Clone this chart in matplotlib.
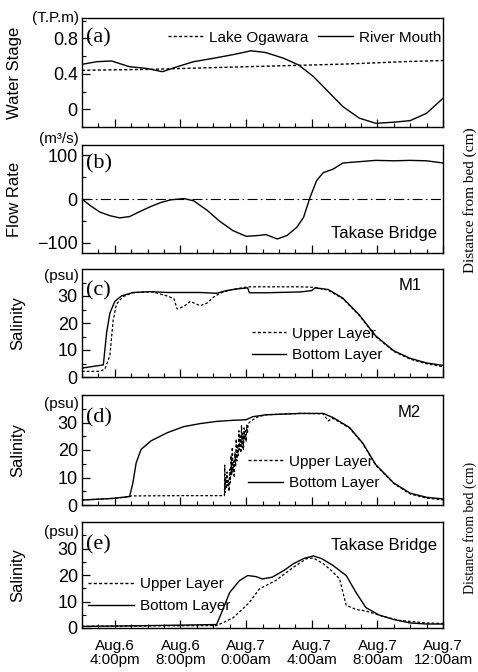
import matplotlib.pyplot as plt
from matplotlib.ticker import MultipleLocator
from matplotlib.lines import Line2D

plt.rcParams['font.family'] = ['Liberation Sans', 'DejaVu Sans']
SERIF = ['Liberation Serif', 'DejaVu Serif']

# time in hours from Aug.6 0:00
# (a) water stage (T.P.m)
t_lake = [14, 16, 18, 20, 22, 24, 26, 28, 30, 32, 34, 36]
lake = [0.44, 0.445, 0.45, 0.46, 0.47, 0.48, 0.49, 0.50, 0.51, 0.525, 0.54, 0.55]
t_mouth = [14, 14.9, 15.8, 16.9, 17.9, 18.9, 19.8, 20.8, 22.0, 23.3, 24.3, 25.2, 26.3,
           27.2, 28.1, 29.0, 29.9, 30.9, 31.9, 33.0, 34.0, 35.0, 36.0]
mouth = [0.507, 0.537, 0.545, 0.48, 0.462, 0.424, 0.48, 0.537, 0.575, 0.62, 0.66, 0.64, 0.575,
         0.50, 0.37, 0.20, 0.03, -0.10, -0.158, -0.146, -0.128, -0.045, 0.124]

# (b) flow rate at Takase Bridge (m3/s)
t_flow = [14, 14.5, 15.1, 15.7, 16.3, 16.9, 17.5, 18.2, 18.8, 19.4, 20.2, 20.8, 21.6, 22.4,
          23.2, 24.0, 24.8, 25.2, 25.9, 26.5, 27.1, 27.5, 27.9, 28.3, 28.7, 29.0, 29.3,
          29.9, 30.9, 31.9, 33.0, 34.0, 35.0, 36.0]
flow = [0, -15, -30, -38, -43, -40, -29, -17, -8, -2, 1, -4, -25, -51,
        -72, -85, -83, -81, -91, -83, -64, -42, 4, 42, 60, 64, 68,
        82, 85, 88, 87, 88, 87, 82]

# (c) salinity M1 (psu)
t_c_bot = [14, 15.1, 15.3, 15.5, 15.7, 16.0, 16.4, 17.1, 18.2, 19.2, 20.2, 21.2, 22.2, 22.8,
           23.4, 24.1, 24.2, 25.2, 27.3, 28.0, 28.2, 29.0, 29.9, 30.9, 31.9, 33.0, 34.0,
           35.0, 36.0]
c_bot = [3.3, 4.3, 4.5, 16.4, 23.7, 28, 30, 31.3, 31.6, 31.3, 31.3, 31.3, 31, 32,
         32.6, 33, 31.2, 31.2, 31.5, 32, 33, 32.4, 29.2, 23, 15.2, 9.7, 6.9,
         5.2, 4.3]
t_c_up = [14, 15.1, 15.4, 15.7, 15.9, 16.1, 16.5, 17.1, 18.2, 18.6, 19.2, 19.6, 19.8, 20.2,
          20.6, 21.2, 21.6, 22.0, 22.4, 23.0, 24.1, 25.2, 27.3, 28.2, 29.0, 29.9, 30.9,
          31.9, 33.0, 34.0, 35.0, 36.0]
c_up = [2.1, 2.1, 3, 8, 21, 27, 29.8, 31.2, 31.6, 31, 30, 29, 25.2, 26.1,
        28, 26.4, 27.3, 29.5, 31, 32.2, 33.4, 33.4, 33.4, 33.2, 32.2, 29, 22.8,
        15, 9.5, 6.6, 4.9, 3.8]

# (d) salinity M2 (psu)
t_d_bot = [14, 15.9, 16.9, 17.1, 17.3, 17.6, 18.2, 19.2, 20.2, 21.2, 22.2, 23.2, 24.0, 24.4,
           25.2, 27.3, 28.7, 29.3, 30.3, 31.1, 31.9, 33.0, 34.0, 35.0, 36.0]
d_bot = [1.8, 2.4, 3.1, 8, 15.3, 20.2, 23.3, 26.3, 28.5, 29.6, 30.4, 30.8, 31, 32.1,
         32.8, 33.3, 33.3, 31.8, 28.2, 22.6, 14.7, 8, 4.3, 2.8, 2.2]
t_d_up = [14, 15.9, 16.9, 17.0, 20.0, 22.68, 22.70, 22.72, 22.76, 22.80, 22.84, 22.88, 22.92,
          22.96, 23.00, 23.04, 23.08, 23.12, 23.16, 23.20, 23.24, 23.28, 23.32, 23.36,
          23.40, 23.44, 23.48, 23.52, 23.56, 23.60, 23.64, 23.68, 23.72, 23.76, 23.80,
          23.84, 23.88, 23.92, 23.96, 24.00, 24.04, 24.08, 24.12, 24.3, 24.7, 25.2,
          27.3, 28.7, 29.0, 29.3, 30.3, 31.1, 31.9, 33.0, 34.0, 35.0, 36.0]
d_up = [1.8, 2.4, 3.0, 3.3, 3.4, 3.4, 14.5, 4.5, 10, 6, 12, 7, 9,
        5, 13, 8, 18, 11, 21, 12, 16, 10, 19, 14,
        24, 16, 22, 18, 27, 20, 25, 19, 29, 21, 26,
        20, 28, 24, 27, 23, 29, 26, 29.5, 30.6, 32, 32.8,
        33.3, 33.2, 30.6, 31.5, 28, 22.4, 14.5, 7.8, 4.0, 2.5, 1.9]

# (e) salinity Takase Bridge (psu)
t_e_bot = [14, 18, 22.2, 22.5, 23.0, 23.6, 24.1, 24.6, 25.0, 25.6, 26.3, 26.9, 27.5, 28.1,
           28.6, 29.3, 30.1, 30.7, 31.3, 32.1, 33.0, 34.0, 35.0, 36.0]
e_bot = [0.6, 0.9, 1.3, 5.7, 13.4, 17.9, 19.8, 19.4, 18.5, 19.2, 21.7, 24.3, 26.2, 27.2,
         26.2, 23.6, 19.8, 13.4, 7.7, 4.9, 3.2, 1.9, 1.5, 1.5]
t_e_up = [14, 18, 22.2, 23.2, 24.2, 24.8, 25.8, 26.9, 27.7, 28.1, 28.7, 29.3, 29.7, 29.9,
          30.1, 30.7, 31.3, 32.3, 33.3, 35.0, 36.0]
e_up = [0.6, 0.8, 0.9, 3.8, 9.6, 14.7, 17.9, 23, 26.2, 26.4, 24.3, 21.1, 18.5, 13.4,
        8.6, 7, 6.4, 4.5, 2.9, 1.9, 1.7]

x_ticks = [16, 20, 24, 28, 32, 36]
x_labels = ['Aug.6\n4:00pm', 'Aug.6\n8:00pm', 'Aug.7\n0:00am', 'Aug.7\n4:00am',
            'Aug.7\n8:00am', 'Aug.7\n12:00am']
sal_ticks = [0, 10, 20, 30]

DOT = (0, (2.2, 1.6))
W, H = 478, 672
fig = plt.figure(figsize=(4.78, 6.72), dpi=100)

# pixel boxes (top, bottom) of each panel
boxes = [(18, 127), (145, 253), (269, 377), (395, 505), (522, 628)]
axes = []
for top, bot in boxes:
    ax = fig.add_axes([82 / W, 1 - bot / H, 361 / W, (bot - top) / H])
    ax.set_xlim(14, 36)
    ax.xaxis.set_major_locator(MultipleLocator(4))
    ax.xaxis.set_minor_locator(MultipleLocator(1))
    ax.tick_params(which='major', direction='in', length=6, width=0.9, labelsize=13, pad=3)
    ax.tick_params(which='minor', direction='in', length=3, width=0.8)
    ax.tick_params(axis='x', labelbottom=False)
    for s in ax.spines.values():
        s.set_linewidth(1.0)
    axes.append(ax)

a, b, c, d, e = axes

# (a)
a.plot(t_lake, lake, color='k', lw=1.0, ls=DOT)
a.plot(t_mouth, mouth, color='k', lw=1.0)
a.set_ylim(-0.2, 1.03)
a.set_yticks([0, 0.4, 0.8])
a.set_yticklabels(['0', '0.4', '0.8'])
a.yaxis.set_minor_locator(MultipleLocator(0.2))
a.legend([Line2D([], [], color='k', lw=1.0, ls=DOT), Line2D([], [], color='k', lw=1.0)],
         ['Lake Ogawara', 'River Mouth'], ncol=2, loc='center right',
         bbox_to_anchor=(0.995, 0.82), frameon=False, fontsize=11, handlelength=2.3,
         handletextpad=0.4, columnspacing=0.6, borderpad=0, borderaxespad=0)

# (b)
b.plot(t_flow, flow, color='k', lw=1.0)
b.axhline(0, color='k', lw=0.8, ls=(0, (9, 3, 1.5, 3)))
b.set_ylim(-123, 123)
b.set_yticks([-100, 0, 100])
b.yaxis.set_minor_locator(MultipleLocator(50))
b.text(0.983, 0.185, 'Takase Bridge', transform=b.transAxes, ha='right', va='center', fontsize=12)

# (c), (d), (e)
sal = [(c, t_c_up, c_up, t_c_bot, c_bot), (d, t_d_up, d_up, t_d_bot, d_bot),
       (e, t_e_up, e_up, t_e_bot, e_bot)]
for ax, tu, vu, tb, vb in sal:
    ax.plot(tu, vu, color='k', lw=0.9, ls=DOT)
    ax.plot(tb, vb, color='k', lw=1.0)
    ax.set_ylim(0, 40)
    ax.set_yticks(sal_ticks)
    ax.yaxis.set_minor_locator(MultipleLocator(5))

leg_pos = [(c, 0.471, 0.30, 2.2), (d, 0.46, 0.295, 2.3), (e, 0.017, 0.31, 3.0)]
for ax, lx, ly, hl in leg_pos:
    ax.legend([Line2D([], [], color='k', lw=1.0, ls=DOT), Line2D([], [], color='k', lw=1.0)],
              ['Upper Layer', 'Bottom Layer'], loc='center left', bbox_to_anchor=(lx, ly),
              frameon=False, fontsize=11, handlelength=hl, handletextpad=0.4,
              labelspacing=0.5, borderpad=0, borderaxespad=0)

c.text(0.94, 0.85, 'M1', transform=c.transAxes, ha='right', va='center', fontsize=12)
d.text(0.94, 0.84, 'M2', transform=d.transAxes, ha='right', va='center', fontsize=12)
e.text(0.983, 0.78, 'Takase Bridge', transform=e.transAxes, ha='right', va='center', fontsize=12)

e.tick_params(axis='x', labelbottom=True, labelsize=11, pad=8)
e.set_xticks(x_ticks)
e.set_xticklabels(x_labels, linespacing=1.0)

# panel letters
for ax, lab, yy in zip(axes, ['(a)', '(b)', '(c)', '(d)', '(e)'], [0.82, 0.83, 0.80, 0.79, 0.78]):
    ax.text(0.01, yy, lab, transform=ax.transAxes, ha='left', va='center',
            fontsize=16, family=SERIF)

# y labels and units
ylabels = ['Water Stage', 'Flow Rate', 'Salinity', 'Salinity', 'Salinity']
ylab_x = [15, 15, 18, 18, 18]
units = ['(T.P.m)', '(m\u00b3/s)', '(psu)', '(psu)', '(psu)']
unit_y = [18, 139, 276, 404, 532]
for (top, bot), lab, lx, u, uy in zip(boxes, ylabels, ylab_x, units, unit_y):
    fig.text(lx / W, 1 - (top + bot) / 2 / H, lab, rotation=90, ha='center', va='center', fontsize=12)
    fig.text(79 / W, 1 - uy / H, u, ha='right', va='center', fontsize=11)

# labels of the neighbouring figure at the right edge
fig.text(477 / W, 1 - 200 / H, 'Distance from bed (cm)', rotation=90, ha='right', va='center',
         fontsize=11, family=SERIF)
fig.text(477 / W, 1 - 528 / H, 'Distance from bed (cm)', rotation=90, ha='right', va='center',
         fontsize=10, family=SERIF)

fig.savefig('out.png', dpi=100)
